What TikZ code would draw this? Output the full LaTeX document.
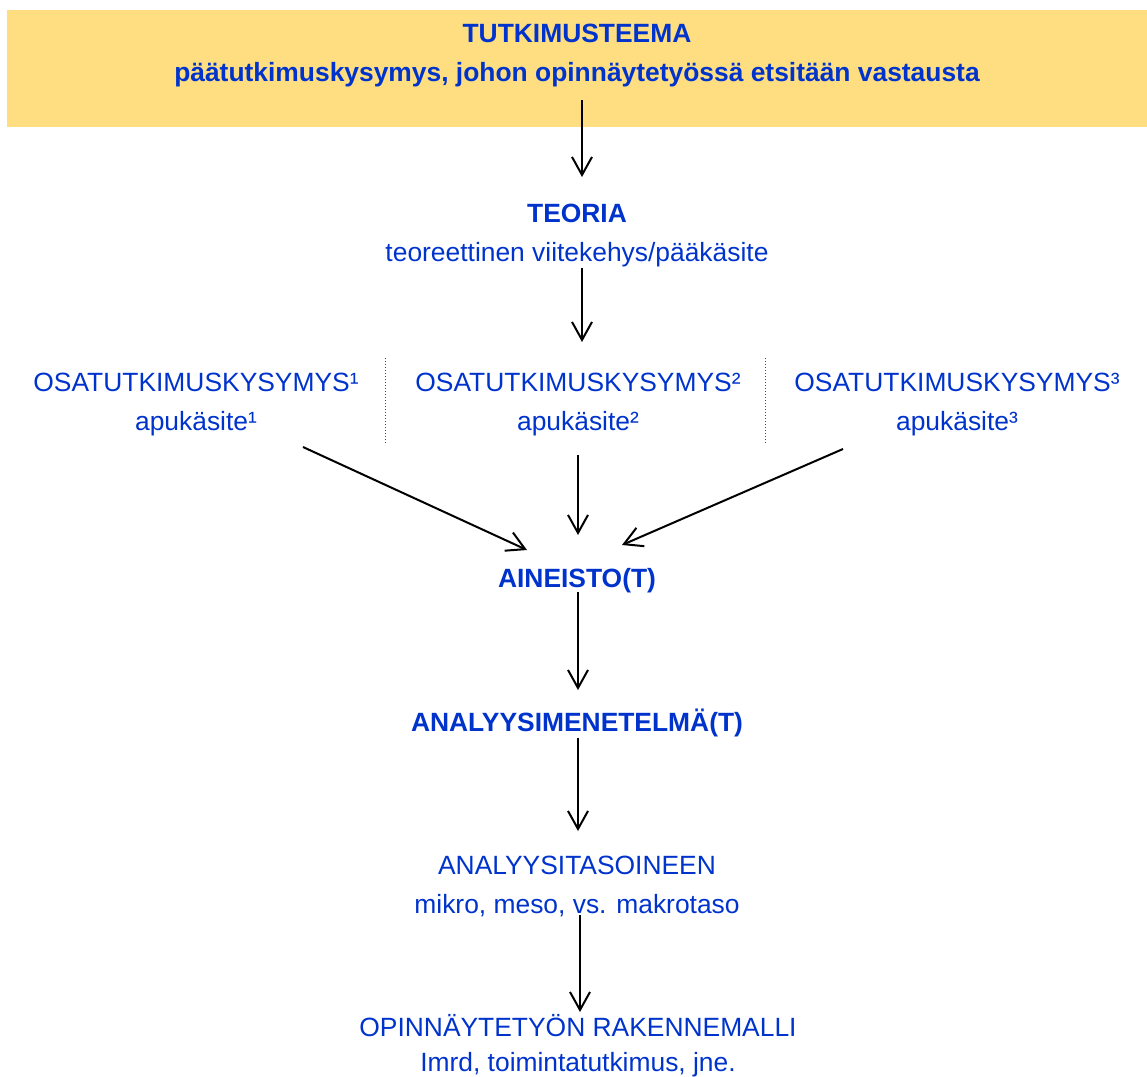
\documentclass[tikz,border=0pt]{standalone}
\usepackage{fontspec}
\setmainfont{Liberation Sans}
\usetikzlibrary{positioning,arrows.meta}
\definecolor{band}{RGB}{254,222,128}
\definecolor{txt}{RGB}{0,51,204}
\tikzset{
  title/.style = {text=txt,font=\fontsize{13.2}{19.5}\selectfont\bfseries,align=center,inner sep=0pt},
  plain/.style = {text=txt,font=\fontsize{13.2}{19.5}\selectfont,align=center,inner sep=0pt},
  arr/.style = {-{Straight Barb[length=9pt,width=10pt]},black,line width=1pt},
  sep/.style = {black!70,densely dotted,line width=0.5pt}
}

\begin{document}
\begin{tikzpicture}[x=0.5pt,y=-0.5pt]
\useasboundingbox (0,0) rectangle (1147,1077);

\node[fill=band,minimum width=570pt,minimum height=58.5pt,inner sep=0pt] (band) at (577,68.5) {};
\node[title] (teema) at (577,56) {TUTKIMUSTEEMA\\päätutkimuskysymys, johon opinnäytetyössä etsitään vastausta};

\node[plain] (teoria) at (577,235.5) {\textbf{TEORIA}\\teoreettinen viitekehys/pääkäsite};

\node[plain] (osa1) at (196,405) {OSATUTKIMUSKYSYMYS¹\\apukäsite¹};
\node[plain] (osa2) at (578,405) {OSATUTKIMUSKYSYMYS²\\apukäsite²};
\node[plain] (osa3) at (957,405) {OSATUTKIMUSKYSYMYS³\\apukäsite³};
\draw[sep] (385,358) -- (385,444);
\draw[sep] (765,358) -- (765,444);

\node[title] (aineisto) at (577,581) {AINEISTO(T)};
\node[title] (menet) at (577,723) {ANALYYSIMENETELMÄ(T)};
\node[plain] (taso) at (577,886) {ANALYYSITASOINEEN\\mikro, meso, vs. makrotaso};
\node[plain] (malli) at (578,1046) {OPINNÄYTETYÖN RAKENNEMALLI\\[-2pt]Imrd, toimintatutkimus, jne.};

\draw[arr] ([xshift=2.5pt,yshift=-15.75pt]band.center) -- ([xshift=2.5pt,yshift=29.25pt]teoria.center);
\draw[arr] ([xshift=2.5pt,yshift=-16.25pt]teoria.center) -- ([xshift=2pt,yshift=31.5pt]osa2.center);
\draw[arr] ([xshift=53.5pt,yshift=-21pt]osa1.center) -- ([xshift=-25pt,yshift=15.5pt]aineisto.center);
\draw[arr] ([yshift=-25pt]osa2.center) -- ([xshift=0.5pt,yshift=23pt]aineisto.center);
\draw[arr] ([xshift=-57pt,yshift=-22pt]osa3.center) -- ([xshift=22.5pt,yshift=18pt]aineisto.center);
\draw[arr] ([xshift=0.5pt,yshift=-5.5pt]aineisto.center) -- ([xshift=0.5pt,yshift=16.5pt]menet.center);
\draw[arr] ([xshift=0.5pt,yshift=-7.5pt]menet.center) -- ([xshift=0.5pt,yshift=27.5pt]taso.center);
\draw[arr] ([xshift=1.5pt,yshift=-14.5pt]taso.center) -- ([xshift=1pt,yshift=17pt]malli.center);
\end{tikzpicture}
\end{document}
